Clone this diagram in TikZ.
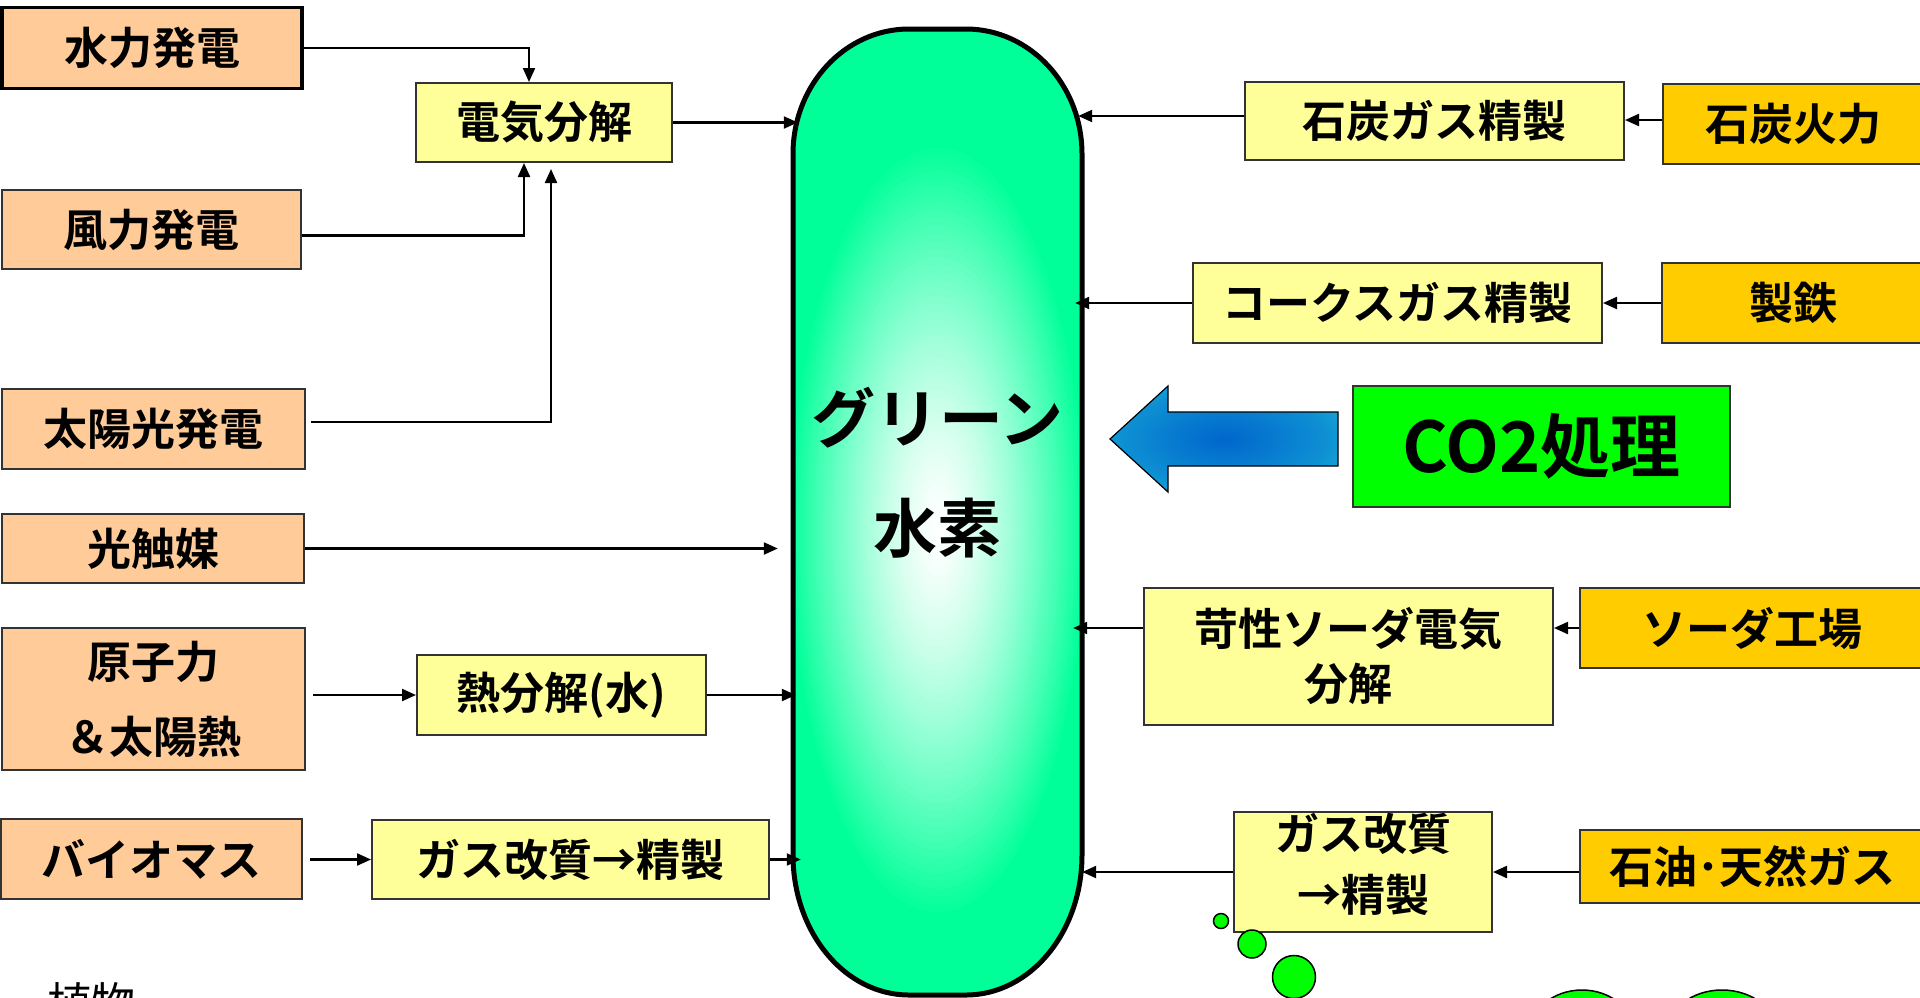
\documentclass[tikz,border=0pt]{standalone}
\usepackage{fontspec}
\setmainfont{Noto Sans CJK JP}[BoldFont={Noto Sans CJK JP Bold}]
\usetikzlibrary{arrows.meta,shapes.geometric,calc}
\definecolor{peach}{HTML}{FFCC99}
\definecolor{lyellow}{HTML}{FFFF99}
\definecolor{orng}{HTML}{FFCC00}
\definecolor{gbox}{HTML}{00FF00}
\definecolor{capsgreen}{HTML}{00FF99}
\definecolor{arrblue}{HTML}{0066CC}
\definecolor{arrcyan}{HTML}{22CCDD}
\pgfdeclareradialshading{arrglow}{\pgfpoint{0bp}{0bp}}{color(0bp)=(arrblue); color(22bp)=(arrblue!60!arrcyan); color(42bp)=(arrcyan); color(50bp)=(arrcyan)}
\newcommand\boxfont{\fontsize{44pt}{52pt}\selectfont\bfseries}
\tikzset{
  box/.style={draw=black!80, line width=2pt, inner sep=0pt, align=center, font=\boxfont},
  src/.style={box, fill=peach},
  proc/.style={box, fill=lyellow},
  ind/.style={box, fill=orng},
  arr/.style={line width=2.2pt, -{Triangle[length=14pt,width=12pt]}},
  bubble/.style={draw=black, line width=1.5pt, fill=gbox, inner sep=0pt},
  capsule/.style={insert path={
    (793,154) -- (793,855) arc[start angle=180,end angle=270,x radius=116pt,y radius=140pt]
    -- (966,995) arc[start angle=270,end angle=360,x radius=116pt,y radius=140pt]
    -- (1082,154) arc[start angle=0,end angle=90,x radius=116pt,y radius=125pt]
    -- (909,29) arc[start angle=90,end angle=180,x radius=116pt,y radius=125pt] -- cycle}},
}
\begin{document}
\begin{tikzpicture}[x=1pt,y=-1pt]
\useasboundingbox (0,0) rectangle (1920,997);
\clip (0,0) rectangle (1920,997);
\fill[white] (0,0) rectangle (1920,997);

% capsule with soft white glow
\begin{scope}
  \clip[capsule];
  \fill[capsgreen, capsule];
  \foreach \i in {0,...,48}{
    \pgfmathsetmacro\fr{1-\i/50}
    \pgfmathsetmacro\pct{100*(\fr^1.4)}
    \pgfmathsetmacro\rx{150*\fr}
    \pgfmathsetmacro\ry{390*\fr}
    \fill[capsgreen!\pct!white] (937.5,530) ellipse[x radius=\rx pt, y radius=\ry pt];
  }
\end{scope}
\draw[black, line width=5pt, capsule];
\node[inner sep=0pt, minimum width=289, minimum height=966, align=center,
      font=\fontsize{64pt}{110pt}\selectfont\bfseries, text depth=85pt] (h2) at (937.5,512) {グリーン\\水素};

% left sources
\node[src, draw=black, line width=3.5pt, minimum width=300, minimum height=81] (suiryoku) at (152,48) {水力発電};
\node[src, minimum width=299, minimum height=79] (furyoku) at (151.5,229.5) {風力発電};
\node[src, minimum width=303, minimum height=80] (taiyoko) at (153.5,429) {太陽光発電};
\node[src, minimum width=302, minimum height=69] (hikari) at (153,548.5) {光触媒};
\node[src, minimum width=303, minimum height=142, font=\fontsize{44pt}{75pt}\selectfont\bfseries] (genshi) at (153.5,699) {原子力\\＆太陽熱};
\node[src, minimum width=301, minimum height=80] (bio) at (151.5,859) {バイオマス};

% middle processes
\node[proc, minimum width=256, minimum height=79] (denki) at (544,122.5) {電気分解};
\node[proc, minimum width=289, minimum height=80] (netsu) at (561.5,695) {熱分解(水)};
\node[proc, minimum width=397, minimum height=79] (gasL) at (570.5,859.5) {ガス改質→精製};

% right side
\node[proc, minimum width=379, minimum height=78] (sekitanGas) at (1434.5,121) {石炭ガス精製};
\node[ind, minimum width=260, minimum height=80] (karyoku) at (1793,124) {石炭火力};
\node[proc, minimum width=409, minimum height=80] (coke) at (1397.5,303) {コークスガス精製};
\node[ind, minimum width=262, minimum height=80] (seitetsu) at (1793,303) {製鉄};
\node[box, fill=gbox, minimum width=377, minimum height=121, font=\fontsize{70pt}{76pt}\selectfont\bfseries] (co2) at (1541.5,446.5) {CO2処理};
\node[proc, minimum width=409, minimum height=137, font=\fontsize{44pt}{55pt}\selectfont\bfseries] (kasei) at (1348.5,656.5) {苛性ソーダ電気\\分解};
\node[ind, minimum width=344, minimum height=80] (soda) at (1752,628) {ソーダ工場};
\node[proc, minimum width=258, minimum height=120, font=\fontsize{44pt}{61pt}\selectfont\bfseries, text depth=20pt] (gasR) at (1363,872) {ガス改質\\→精製};
\node[ind, minimum width=344, minimum height=73] (sekiyu) at (1752,866.5) {石油･天然ガス};

% block arrow
\path[draw=black, line width=1.2pt, shading=arrglow]
  (1338,412) -- (1168,412) -- (1168,386) -- (1110,439) -- (1168,492) -- (1168,466) -- (1338,466) -- cycle;

% bubbles
\node[bubble, circle, minimum size=15] (bub1) at (1221,921) {};
\node[bubble, circle, minimum size=28] (bub2) at (1252,944) {};
\node[bubble, circle, minimum size=43] (bub3) at (1294,977) {};
\node[bubble, ellipse, minimum width=106, minimum height=90] (ell1) at (1582,1035) {};
\node[bubble, ellipse, minimum width=112, minimum height=90] (ell2) at (1722,1035) {};

\node[font=\fontsize{44pt}{50pt}\selectfont, anchor=base, inner sep=0pt] (plant) at (91,1019) {植物};

% connectors left
\draw[arr] (suiryoku.east) -| ($(denki.north)+(-15,0)$);
\draw[arr] ($(furyoku.east)+(0,6)$) -| ($(denki.south)+(-20,0)$);
\draw[arr] ($(taiyoko.east)+(5,-7)$) -| ($(denki.south)+(7,6)$);
\draw[arr] (denki.east) -- ($(h2.west |- denki.east)+(5,0)$);
\draw[arr] (hikari.east) -- ($(h2.west |- hikari.east)+(-15,0)$);
\draw[arr] ($(genshi.east |- netsu.west)+(7,0)$) -- (netsu.west);
\draw[arr] (netsu.east) -- ($(h2.west |- netsu.east)+(3,0)$);
\draw[arr] ($(bio.east |- gasL.west)+(7,0)$) -- (gasL.west);
\draw[arr] (gasL.east) -- ($(h2.west |- gasL.east)+(8,0)$);

% connectors right
\draw[arr] ($(karyoku.west)+(0,-4)$) -- ($(sekitanGas.east |- karyoku.west)+(0,-4)$);
\draw[arr] ($(sekitanGas.west)+(0,-5)$) -- ($(h2.east |- sekitanGas.west)+(-4,-5)$);
\draw[arr] (seitetsu.west) -- (coke.east);
\draw[arr] (coke.west) -- ($(h2.east |- coke.west)+(-7,0)$);
\draw[arr] (soda.west) -- (kasei.east |- soda.west);
\draw[arr] (kasei.west |- soda.west) -- ($(h2.east |- soda.west)+(-9,0)$);
\draw[arr] (sekiyu.west |- gasR.east) -- (gasR.east);
\draw[arr] (gasR.west) -- (h2.east |- gasR.west);
\end{tikzpicture}
\end{document}
